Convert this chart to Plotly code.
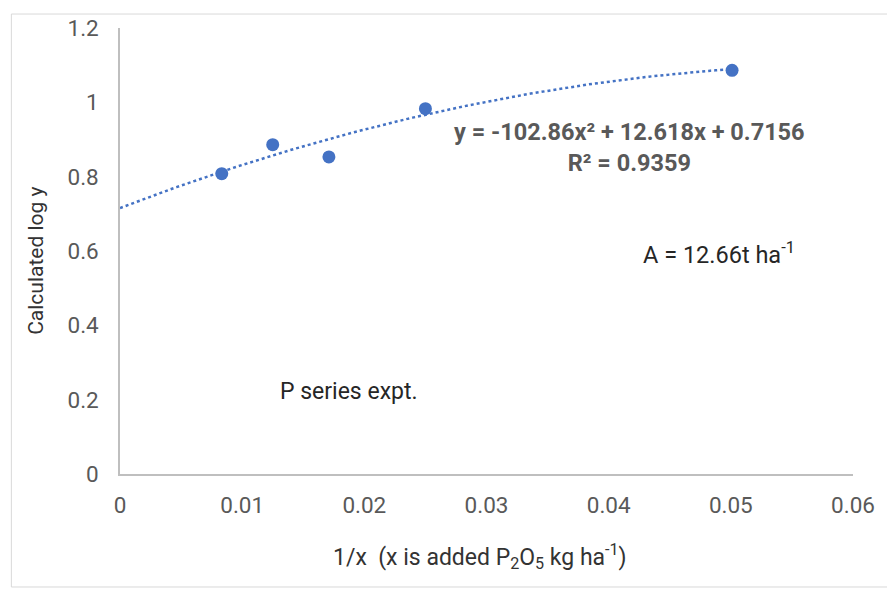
import numpy as np
import plotly.graph_objects as go

# Data
x_vals = [0.00833, 0.0125, 0.0171, 0.025, 0.0501]
y_vals = [0.808, 0.886, 0.853, 0.983, 1.086]

# Polynomial trendline coefficients shown on the chart
coef_a = -102.86
coef_b = 12.618
coef_c = 0.7156
trend_x = np.linspace(0, 0.05, 120)
trend_y = coef_a * trend_x**2 + coef_b * trend_x + coef_c

x_ticks = [0, 0.01, 0.02, 0.03, 0.04, 0.05, 0.06]
x_tick_labels = ["0", "0.01", "0.02", "0.03", "0.04", "0.05", "0.06"]
y_ticks = [0, 0.2, 0.4, 0.6, 0.8, 1.0, 1.2]
y_tick_labels = ["0", "0.2", "0.4", "0.6", "0.8", "1", "1.2"]

W, H = 887, 591
L, R, T, B = 119.5, 32, 27.5, 116.7
pw = W - L - R
ph = H - T - B

def px(xp):
    return (xp - L) / pw

def py(yp):
    return (H - B - yp) / ph

blue = "#4472C4"
gray = "#595959"
FONT = "Roboto"

fig = go.Figure()
fig.add_trace(go.Scatter(
    x=trend_x, y=trend_y, mode="lines",
    line=dict(color=blue, width=2.5, dash="dot"),
    hoverinfo="skip", showlegend=False))
fig.add_trace(go.Scatter(
    x=x_vals, y=y_vals, mode="markers",
    marker=dict(color=blue, size=13),
    showlegend=False))

fig.update_layout(
    width=W, height=H,
    margin=dict(l=L, r=R, t=T, b=B, pad=0),
    paper_bgcolor="white", plot_bgcolor="white",
    font=dict(family=FONT, color=gray, size=22),
    xaxis=dict(range=[0, 0.06], tickvals=x_ticks, ticktext=x_tick_labels,
               showgrid=False, zeroline=False, showline=True,
               linecolor="#BFBFBF", linewidth=1.5, ticks="",
               ticklabelstandoff=10,
               tickfont=dict(family=FONT, size=22.5, color=gray)),
    yaxis=dict(range=[0, 1.2], tickvals=y_ticks, ticktext=y_tick_labels,
               showgrid=False, zeroline=False, showline=True,
               linecolor="#BFBFBF", linewidth=1.5, ticks="",
               ticklabelstandoff=15,
               tickfont=dict(family=FONT, size=22.5, color=gray)),
)

annotations = [
    dict(x=px(631), y=py(147.5), xref="paper", yref="paper",
         text="<b>y = -102.86x² + 12.618x + 0.7156<br>R² = 0.9359</b>",
         showarrow=False, xanchor="center", yanchor="middle",
         font=dict(family=FONT, size=23.5, color=gray), align="center"),
    dict(x=px(349.5), y=py(392), xref="paper", yref="paper",
         text="P series expt.", showarrow=False,
         xanchor="center", yanchor="middle",
         font=dict(family=FONT, size=23, color="#262626")),
    dict(x=px(721), y=py(253), xref="paper", yref="paper",
         text="A = 12.66t ha<sup>-1</sup>", showarrow=False,
         xanchor="center", yanchor="middle",
         font=dict(family=FONT, size=23.5, color="#262626")),
    dict(x=px(35), y=py(261), xref="paper", yref="paper",
         text="Calculated log y", showarrow=False, textangle=-90,
         xanchor="center", yanchor="middle",
         font=dict(family=FONT, size=21, color="#333333")),
    dict(x=px(481), y=py(557), xref="paper", yref="paper",
         text="1/x  (x is added P<sub>2</sub>O<sub>5</sub> kg ha<sup>-1</sup>)",
         showarrow=False, xanchor="center", yanchor="middle",
         font=dict(family=FONT, size=23, color="#333333")),
]
fig.update_layout(annotations=annotations)

fig.add_shape(type="rect", xref="paper", yref="paper",
              x0=px(10.5), x1=px(900), y0=py(587.5), y1=py(13.5),
              line=dict(color="#D9D9D9", width=1), layer="below")

fig.write_html(
    "out.html",
    config={"displayModeBar": False},
    post_script="document.body.style.margin='0';document.body.style.overflow='hidden';",
)
